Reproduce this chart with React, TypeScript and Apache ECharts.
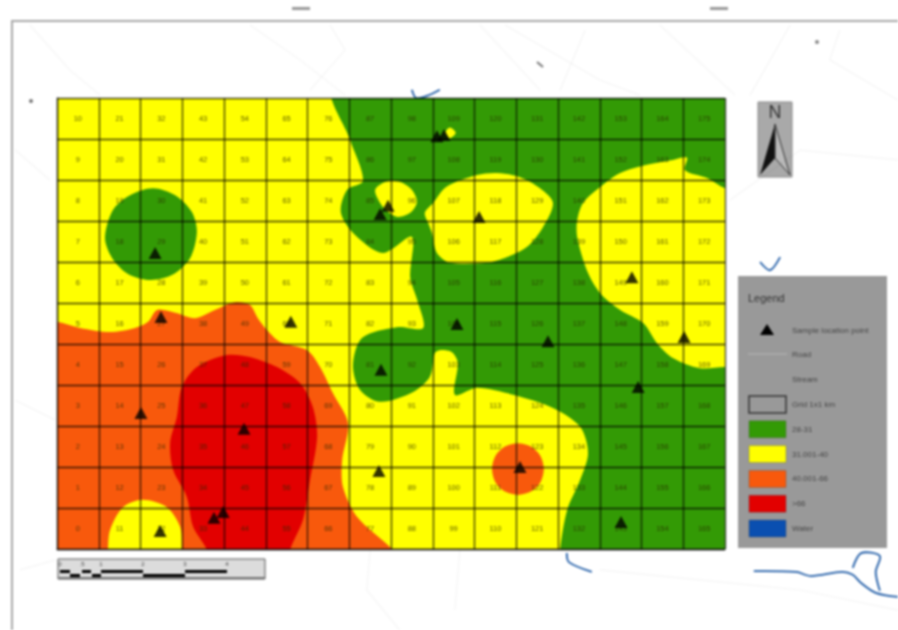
import React, { useEffect, useRef } from "react";
import * as echarts from "echarts";

const columnCount = 16;
const rowCount = 11;

// Cell numbers, one list per column, bottom row first
const cellColumns = [
  [0, 1, 2, 3, 4, 5, 6, 7, 8, 9, 10],
  [11, 12, 13, 14, 15, 16, 17, 18, 19, 20, 21],
  [22, 23, 24, 25, 26, 27, 28, 29, 30, 31, 32],
  [33, 34, 35, 36, 37, 38, 39, 40, 41, 42, 43],
  [44, 45, 46, 47, 48, 49, 50, 51, 52, 53, 54],
  [55, 56, 57, 58, 59, 60, 61, 62, 63, 64, 65],
  [66, 67, 68, 69, 70, 71, 72, 73, 74, 75, 76],
  [77, 78, 79, 80, 81, 82, 83, 84, 85, 86, 87],
  [88, 89, 90, 91, 92, 93, 94, 95, 96, 97, 98],
  [99, 100, 101, 102, 103, 104, 105, 106, 107, 108, 109],
  [110, 111, 112, 113, 114, 115, 116, 117, 118, 119, 120],
  [121, 122, 123, 124, 125, 126, 127, 128, 129, 130, 131],
  [132, 133, 134, 135, 136, 137, 138, 139, 140, 141, 142],
  [143, 144, 145, 146, 147, 148, 149, 150, 151, 152, 153],
  [154, 155, 156, 157, 158, 159, 160, 161, 162, 163, 164],
  [165, 166, 167, 168, 169, 170, 171, 172, 173, 174, 175],
];

const samplePoints = [
  [2.35, 7.22], [2.49, 5.66], [5.6, 5.54], [7.74, 8.17], [7.93, 8.37], [9.1, 10.07], [9.27, 10.1],
  [10.11, 8.1], [13.77, 6.63], [15.02, 5.17], [9.58, 5.49], [11.76, 5.07], [7.76, 4.37], [13.92, 3.95],
  [2.01, 3.32], [4.48, 2.93], [7.71, 1.9], [11.09, 2.0], [13.51, 0.66], [2.47, 0.44], [3.98, 0.9], [3.76, 0.76],
];

const plotBase = [[-0.5, -0.5], [16.5, -0.5], [16.5, 11.5], [-0.5, 11.5]];
const greenMain = [
  [6.66, 11.2], [16.24, 11.2], [16.24, -0.27], [12.05, -0.27], [12.05, 0], [12.22, 0.95], [12.53, 1.68], [12.72, 2.34],
  [12.53, 2.98], [11.88, 3.44], [10.92, 3.76], [10.06, 3.93], [9.53, 3.76], [9.6, 4.54], [9.46, 4.8], [9.17, 4.85],
  [9.05, 4.78], [8.93, 4.2], [8.53, 3.83], [7.74, 3.59], [7.26, 3.88], [7.09, 4.49], [7.31, 5.15], [8.14, 5.41],
  [8.77, 5.39], [8.63, 6.07], [8.46, 6.63], [8.5, 7.61], [7.81, 7.22], [7.14, 7.66], [6.8, 8.2], [6.95, 8.76],
  [7.33, 8.98], [7.02, 9.98],
];
const yellowSpeck = [[9.3, 10.15], [9.41, 10.28], [9.55, 10.15], [9.41, 10.02]];
const yellowKnob = [
  [7.62, 8.76], [7.86, 8.95], [8.22, 8.95], [8.5, 8.76], [8.62, 8.46], [8.46, 8.2], [8.17, 8.1], [7.93, 8.22], [7.74, 8.44],
];
const yellowOval = [
  [8.81, 8.2], [9.01, 8.44], [9.32, 8.83], [10.06, 9.12], [10.54, 9.17], [11.09, 9.07], [11.57, 8.8], [11.88, 8.44],
  [11.64, 7.85], [11.26, 7.37], [10.78, 7.12], [10.3, 6.98], [9.41, 6.98], [9.1, 7.22], [8.98, 7.71], [8.89, 7.95],
];
const yellowEast = [
  [15.09, 9.54], [15.04, 9.24], [15.57, 9.05], [16, 8.8], [16.24, 8.8], [16.24, 4.41], [16, 4.44], [15.4, 4.41],
  [14.75, 4.66], [14.37, 5.02], [14.04, 5.51], [13.49, 5.83], [13.01, 6.24], [12.69, 6.8], [12.46, 7.61], [12.46, 8.02],
  [12.6, 8.44], [13.01, 8.83], [13.49, 9.17], [14.13, 9.37], [14.75, 9.49],
];
const greenWest = [
  [1.15, 7.59], [1.34, 8.27], [1.75, 8.63], [2.3, 8.8], [2.83, 8.63], [3.23, 8.22], [3.35, 7.73], [3.19, 7.1],
  [2.75, 6.68], [2.23, 6.56], [1.7, 6.71], [1.32, 7.1],
];
const orangeMain = [
  [-0.24, 5.54], [0, 5.54], [0.55, 5.39], [1.27, 5.29], [1.87, 5.39], [2.18, 5.54], [2.4, 5.83], [2.83, 5.76],
  [3.31, 5.63], [3.78, 5.83], [4.26, 6.02], [4.62, 5.95], [4.81, 5.63], [5.03, 5.34], [5.34, 5.05], [5.99, 4.85],
  [6.3, 4.44], [6.61, 3.8], [6.97, 3.07], [6.83, 2.17], [6.85, 1.51], [7.19, 0.78], [8.05, -0.02], [8.22, -0.27], [-0.24, -0.27],
];
const redCore = [
  [4.07, 4.73], [3.35, 4.44], [2.99, 3.95], [2.87, 3.22], [2.71, 2.59], [2.78, 1.93], [3.11, 1.27], [3.26, 0.54],
  [3.59, -0.02], [3.59, -0.27], [5.58, -0.27], [5.58, -0.02], [5.89, 0.71], [6.06, 1.68], [6.23, 2.73], [6.13, 3.46],
  [5.82, 4.05], [5.27, 4.44], [4.62, 4.68],
];
const yellowSouth = [
  [1.22, -0.27], [1.22, -0.02], [1.27, 0.46], [1.58, 1.02], [2.06, 1.2], [2.63, 1.02], [2.95, 0.54], [2.99, -0.02], [2.99, -0.27],
];
const orangeSpot = [
  [11.66, 1.95], [11.58, 2.27], [11.35, 2.5], [11.04, 2.58], [10.73, 2.5], [10.5, 2.27], [10.42, 1.95], [10.5, 1.63],
  [10.73, 1.4], [11.04, 1.32], [11.35, 1.4], [11.58, 1.63],
];

const GREEN = "#339a05";
const YELLOW = "#ffff00";
const ORANGE = "#f8590c";
const RED = "#e20000";
const WATER = "#1d5aa5";

const regionLayers = [
  { points: plotBase, color: YELLOW },
  { points: greenMain, color: GREEN },
  { points: yellowSpeck, color: YELLOW },
  { points: yellowKnob, color: YELLOW },
  { points: yellowOval, color: YELLOW },
  { points: yellowEast, color: YELLOW },
  { points: greenWest, color: GREEN },
  { points: orangeMain, color: ORANGE },
  { points: redCore, color: RED },
  { points: yellowSouth, color: YELLOW },
  { points: orangeSpot, color: ORANGE },
];

const roads = [
  [[-0.65, 12.78], [0.31, 11.68], [1.03, 11.07]],
  [[4.62, 12.78], [5.82, 11.93], [6.9, 11.07]],
  [[6.54, 12.78], [6.9, 12.17], [6.06, 11.19]],
  [[10.13, 12.78], [11.57, 11.19]],
  [[10.73, 12.78], [13.0, 11.44], [13.96, 11.07]],
  [[12.65, 12.66], [12.05, 11.19]],
  [[14.44, 12.78], [16.24, 11.07]],
  [[17.56, 12.78], [16.6, 11.07]],
  [[18.75, 12.66], [18.51, 11.93], [20.14, 10.95]],
  [[16.12, 8.51], [17.8, 9.73], [20.14, 9.49]],
  [[7.5, -0.02], [7.42, -1.0], [8.21, -1.98]],
  [[9.65, -0.02], [9.53, -1.49]],
  [[13.0, -0.51], [17.8, -1.0], [20.14, -1.49]],
  [[-1.0, 9.73], [-0.17, 9.0]],
  [[-1.0, 3.63], [-0.05, 3.15]],
  [[-0.89, -0.51], [-0.05, -0.27]],
];

const streams = [
  [[8.5, 11.2], [8.6, 11.0], [8.86, 11.05], [9.17, 11.2]],
  [[16.84, 7.0], [17.08, 6.8], [17.32, 7.12]],
  [[12.21, -0.1], [12.26, -0.32], [12.81, -0.56]],
  [[16.69, -0.54], [17.7, -0.56], [18.06, -0.66], [18.8, -0.56], [19.06, -0.63], [19.26, -0.83], [19.61, -1.07], [20.14, -1.17]],
  [[19.06, -0.46], [19.26, -0.1], [19.71, -0.17], [19.61, -0.56], [19.71, -1.02]],
];

const legendRows = ["Sample location point", "Road", "Stream", "Grid 1x1 km", "28-31", "31.001-40", "40.001-66", ">66", "Water"];
const legendSwatches = ["#999999", GREEN, YELLOW, ORANGE, RED, "#0a4fb0"];
const scaleTicks = ["0", ".5", "1", "2", "3", "4"];

const cellItems = cellColumns.flatMap((col, c) => col.map((id, r) => [c + 0.5, r + 0.5, id]));

function App() {
  const ref = useRef<HTMLDivElement>(null);
  useEffect(() => {
    const chart = echarts.init(ref.current!, null, { renderer: "svg" });
    const axisBase = {
      type: "value",
      z: 5,
      interval: 1,
      axisLabel: { show: false },
      axisTick: { show: false },
      axisLine: { show: true, lineStyle: { color: "rgba(0,0,0,0.7)", width: 1.3 } },
      splitLine: { show: true, lineStyle: { color: "rgba(0,0,0,0.75)", width: 1.3 } },
    };
    const legendGraphics: any[] = [
      { type: "rect", shape: { x: 738, y: 276, width: 149, height: 272 }, style: { fill: "#999999" } },
      { type: "text", x: 748, y: 292, style: { text: "Legend", fontSize: 11, fill: "#333", fontFamily: "Liberation Sans" } },
      { type: "polygon", shape: { points: [[767, 324], [760, 335], [774, 335]] }, style: { fill: "#000" } },
      { type: "line", shape: { x1: 748, y1: 354, x2: 787, y2: 354 }, style: { stroke: "#b8b8b8", lineWidth: 1 } },
    ];
    legendRows.forEach((t, i) => {
      legendGraphics.push({
        type: "text", x: 792, y: 326 + i * 24.8,
        style: { text: t, fontSize: 8, fill: "#444", fontFamily: "Liberation Sans" },
      });
    });
    legendSwatches.forEach((fill, i) => {
      legendGraphics.push({
        type: "rect",
        shape: { x: 749, y: 396 + i * 24.8, width: 37, height: 17 },
        style: i === 0 ? { fill, stroke: "#333", lineWidth: 1.5 } : { fill, stroke: "rgba(60,60,60,0.25)" },
      });
    });
    const scaleGraphics: any[] = [
      { type: "rect", shape: { x: 58, y: 559, width: 207, height: 20 }, style: { fill: "#dcdcdc", stroke: "#555", lineWidth: 1 } },
      { type: "rect", shape: { x: 60, y: 570, width: 10, height: 3 }, style: { fill: "#000" } },
      { type: "rect", shape: { x: 70, y: 574, width: 10, height: 3 }, style: { fill: "#000" } },
      { type: "rect", shape: { x: 82, y: 570, width: 9, height: 3 }, style: { fill: "#000" } },
      { type: "rect", shape: { x: 92, y: 574, width: 9, height: 3 }, style: { fill: "#000" } },
      { type: "rect", shape: { x: 101, y: 570, width: 42, height: 3 }, style: { fill: "#000" } },
      { type: "rect", shape: { x: 143, y: 574, width: 42, height: 3 }, style: { fill: "#000" } },
      { type: "rect", shape: { x: 185, y: 570, width: 42, height: 3 }, style: { fill: "#000" } },
      { type: "rect", shape: { x: 58, y: 577, width: 207, height: 2 }, style: { fill: "#777" } },
    ];
    scaleTicks.forEach((t, i) => {
      scaleGraphics.push({
        type: "text", x: [60, 82, 101, 143, 185, 227][i], y: 561,
        style: { text: t, fontSize: 6, fill: "#444", align: "center", fontFamily: "Liberation Sans" },
      });
    });
    chart.setOption({
      animation: false,
      backgroundColor: "#ffffff",
      grid: { left: 57, top: 98, width: 668, height: 451, show: false },
      xAxis: { ...axisBase, min: 0, max: columnCount },
      yAxis: { ...axisBase, min: 0, max: rowCount },
      graphic: [
        { type: "polyline", silent: true, shape: { points: [[12, 630], [12, 21], [898, 21]] }, style: { stroke: "#a8a8a8", fill: "none", lineWidth: 2 } },
        { type: "rect", shape: { x: 292, y: 7, width: 18, height: 3 }, style: { fill: "#999" } },
        { type: "rect", shape: { x: 710, y: 7, width: 18, height: 3 }, style: { fill: "#999" } },
        { type: "circle", shape: { cx: 31, cy: 101, r: 2 }, style: { fill: "#777" } },
        { type: "line", shape: { x1: 537, y1: 62, x2: 543, y2: 67 }, style: { stroke: "#777", lineWidth: 2 } },
        { type: "circle", shape: { cx: 817, cy: 42, r: 2 }, style: { fill: "#888" } },
        { type: "rect", shape: { x: 758, y: 102, width: 34, height: 75 }, style: { fill: "#a9a9a9", stroke: "#888" } },
        { type: "text", x: 775, y: 103, style: { text: "N", fontSize: 18, fill: "#333", align: "center", fontFamily: "Liberation Sans" } },
        { type: "polygon", shape: { points: [[775, 124], [760, 175], [775, 158]] }, style: { fill: "#111" } },
        { type: "polygon", shape: { points: [[775, 124], [790, 175], [775, 158]] }, style: { fill: "#bbb", stroke: "#333", lineWidth: 1 } },
        ...legendGraphics,
        ...scaleGraphics,
      ],
      series: [
        {
          type: "custom",
          coordinateSystem: "cartesian2d",
          clip: false,
          z: 1,
          silent: true,
          data: roads.map((_, i) => [i, 0]),
          renderItem: (p: any, api: any) => ({
            type: "polyline",
            shape: { points: roads[p.dataIndex].map((q) => api.coord(q)) },
            style: { stroke: "rgba(0,0,0,0.045)", fill: "none", lineWidth: 1.2 },
          }),
        },
        {
          type: "custom",
          coordinateSystem: "cartesian2d",
          clip: false,
          z: 1,
          silent: true,
          data: streams.map((_, i) => [i, 0]),
          renderItem: (p: any, api: any) => ({
            type: "polyline",
            shape: { points: streams[p.dataIndex].map((q) => api.coord(q)), smooth: 0.3 },
            style: { stroke: WATER, fill: "none", lineWidth: 1.8 },
          }),
        },
        {
          type: "custom",
          coordinateSystem: "cartesian2d",
          clip: true,
          z: 2,
          silent: true,
          data: regionLayers.map((_, i) => [i, 0]),
          renderItem: (p: any, api: any) => ({
            type: "polygon",
            shape: { points: regionLayers[p.dataIndex].points.map((q) => api.coord(q)), smooth: p.dataIndex === 0 ? 0 : 0.3 },
            style: { fill: regionLayers[p.dataIndex].color },
          }),
        },
        {
          type: "custom",
          coordinateSystem: "cartesian2d",
          clip: false,
          z: 6,
          silent: true,
          data: cellItems,
          renderItem: (_p: any, api: any) => {
            const pt = api.coord([api.value(0), api.value(1)]);
            return {
              type: "text",
              x: pt[0],
              y: pt[1],
              style: {
                text: String(api.value(2)),
                fontSize: 7.5,
                fill: "rgba(40,40,0,0.75)",
                align: "center",
                verticalAlign: "middle",
                fontFamily: "Liberation Sans",
              },
            };
          },
        },
        {
          type: "scatter",
          z: 7,
          symbol: "triangle",
          symbolSize: [13, 12],
          itemStyle: { color: "#000" },
          silent: true,
          data: samplePoints,
        },
      ],
    });
    return () => chart.dispose();
  }, []);
  return (
    <div
      ref={ref}
      style={{ position: "absolute", left: 0, top: 0, width: 898, height: 630, filter: "blur(1px)" }}
    />
  );
}

export default App;
